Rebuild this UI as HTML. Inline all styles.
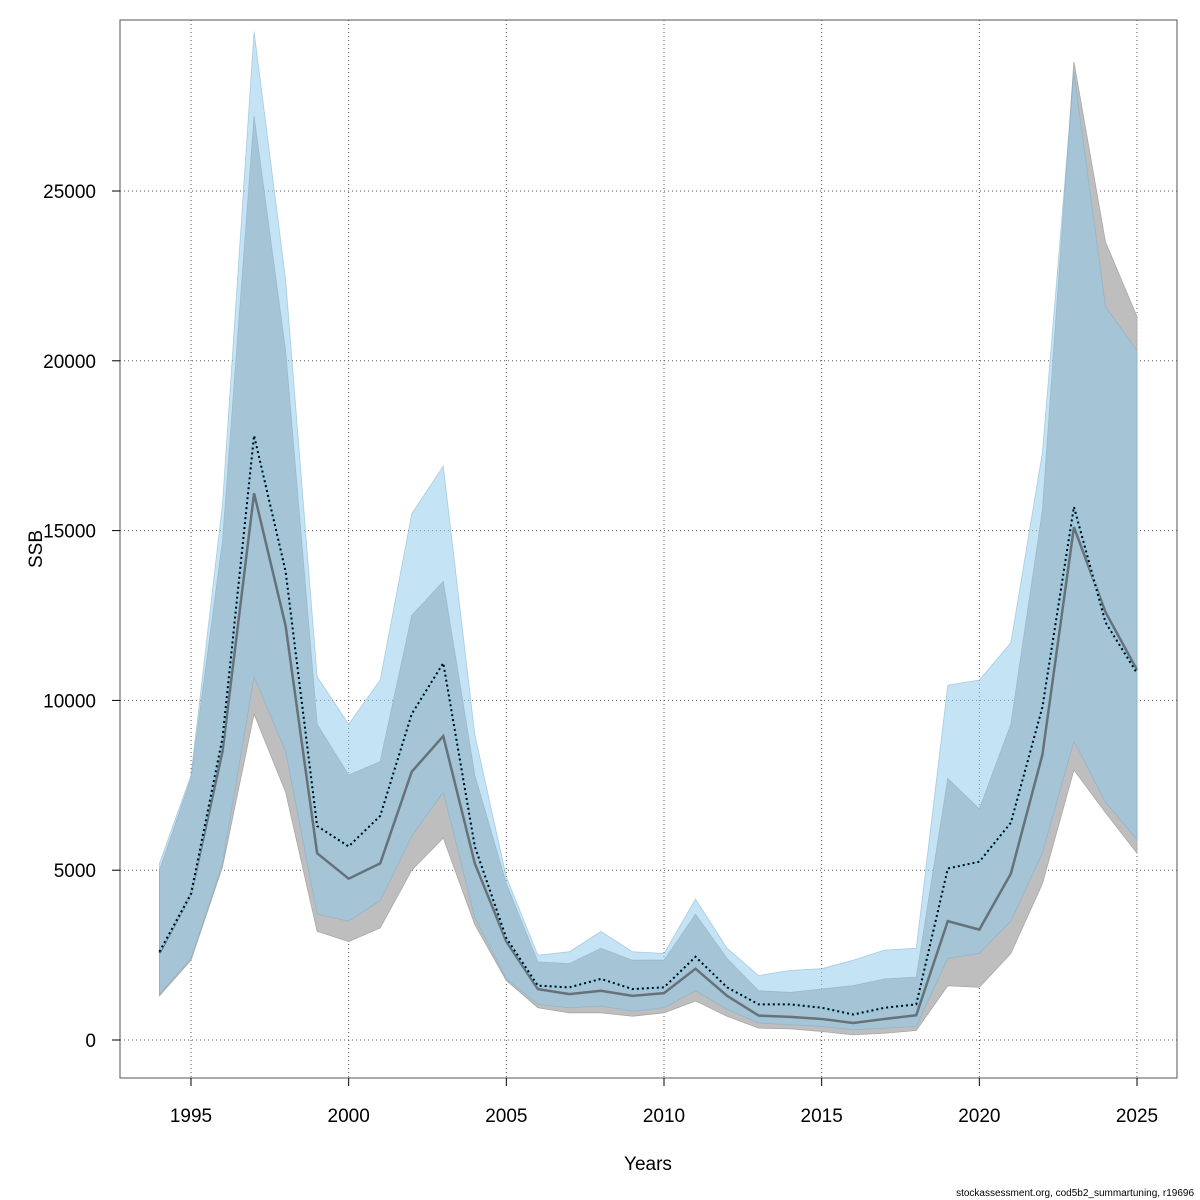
<!DOCTYPE html>
<html><head><meta charset="utf-8"><style>
body{margin:0;background:#fff}
svg{display:block;font-family:"Liberation Sans",sans-serif}
</style></head><body>
<svg id="c" width="1200" height="1200"></svg>
<script>
const years=[1994,1995,1996,1997,1998,1999,2000,2001,2002,2003,2004,2005,2006,2007,2008,2009,2010,2011,2012,2013,2014,2015,2016,2017,2018,2019,2020,2021,2022,2023,2024,2025];
const greyMid=[2560,4300,8500,16100,12200,5500,4750,5200,7900,8950,5200,2900,1500,1350,1450,1300,1380,2100,1300,720,680,620,500,620,730,3500,3250,4900,8400,15100,12600,10900];
const greyHi=[5000,7700,14700,27200,20300,9300,7800,8200,12500,13500,7800,4600,2300,2250,2700,2350,2350,3700,2400,1450,1400,1500,1600,1800,1850,7700,6800,9300,15600,28800,23500,21300];
const greyLo=[1300,2350,5100,9600,7300,3200,2900,3300,5000,5950,3400,1750,950,800,800,700,800,1150,700,350,330,250,150,200,280,1600,1550,2550,4600,7950,6700,5500];
const blueMid=[2600,4300,8900,17800,13800,6300,5700,6600,9600,11100,5700,3000,1600,1550,1800,1500,1550,2450,1550,1050,1050,950,750,950,1050,5050,5250,6400,9800,15700,12300,10800];
const blueHi=[5200,7800,15800,29700,22400,10700,9300,10600,15500,16900,9000,4800,2500,2600,3200,2600,2550,4150,2700,1900,2050,2100,2350,2650,2700,10450,10600,11700,17300,28500,21600,20300];
const blueLo=[1350,2400,5200,10700,8500,3700,3500,4100,6000,7300,3600,1800,1050,950,1000,850,950,1450,900,500,450,400,300,350,400,2400,2550,3500,5500,8800,7000,5900];
const xTicks=[1995,2000,2005,2010,2015,2020,2025];
const yTicks=[0,5000,10000,15000,20000,25000];

const svg=document.getElementById('c');const NS='http://www.w3.org/2000/svg';
const X=y=>191+(y-1995)*946/30;
const Y=v=>1040-v*849/25000;
function mk(t,a,p){const e=document.createElementNS(NS,t);for(const k in a)e.setAttribute(k,a[k]);(p||svg).appendChild(e);return e;}
// grid
xTicks.forEach(t=>{const l=mk('line',{x1:X(t),x2:X(t),y1:20,y2:1078,stroke:'#555','stroke-dasharray':'1,3','stroke-width':1});

});
yTicks.forEach(t=>{const l=mk('line',{x1:120,x2:1177,y1:Y(t),y2:Y(t),stroke:'#555','stroke-dasharray':'1,3','stroke-width':1});

});
function band(hi,lo,fill,stroke,name){
 let pts=years.map((y,i)=>X(y)+','+Y(hi[i]));
 pts=pts.concat(years.map((y,i)=>X(y)+','+Y(lo[i])).reverse());
 const p=mk('polygon',{points:pts.join(' '),fill:fill,stroke:stroke,'stroke-width':0.8});
 
 
}
function line(v,attrs,name){
 const p=mk('polyline',Object.assign({points:years.map((y,i)=>X(y)+','+Y(v[i])).join(' '),fill:'none'},attrs));
 
 
}
band(greyHi,greyLo,'#bebebe','#a8a8a8','grey-confidence-band');
band(blueHi,blueLo,'rgba(144,202,236,0.53)','rgba(120,170,200,0.5)','blue-confidence-band');
line(greyMid,{stroke:'rgba(60,60,60,0.6)','stroke-width':2.5},'grey-ssb-line');
line(blueMid,{stroke:'#87ceeb','stroke-width':2},'blue-ssb-line-base');
line(blueMid,{stroke:'#000','stroke-width':2,'stroke-dasharray':'2,3'},'blue-ssb-dotted-line');
// frame
const f=mk('rect',{x:120,y:20,width:1057,height:1058,fill:'none',stroke:'#555','stroke-width':1});


xTicks.forEach(t=>{const l=mk('line',{x1:X(t),x2:X(t),y1:1078,y2:1086,stroke:'#000'});


const tx=mk('text',{x:X(t),y:1122,'text-anchor':'middle','font-size':19});tx.textContent=t;

});
yTicks.forEach(t=>{const l=mk('line',{x1:112,x2:120,y1:Y(t),y2:Y(t),stroke:'#000'});


const tx=mk('text',{x:96,y:Y(t)+7,'text-anchor':'end','font-size':19});tx.textContent=t;

});
const xt=mk('text',{x:648,y:1170,'text-anchor':'middle','font-size':19});xt.textContent='Years';


const yt=mk('text',{x:0,y:0,'text-anchor':'middle','font-size':19,transform:'translate(42,549) rotate(-90)'});yt.textContent='SSB';


const cr=mk('text',{x:1194,y:1196,'text-anchor':'end','font-size':10});cr.textContent='stockassessment.org, cod5b2_summartuning, r19696';


</script>
</body></html>
